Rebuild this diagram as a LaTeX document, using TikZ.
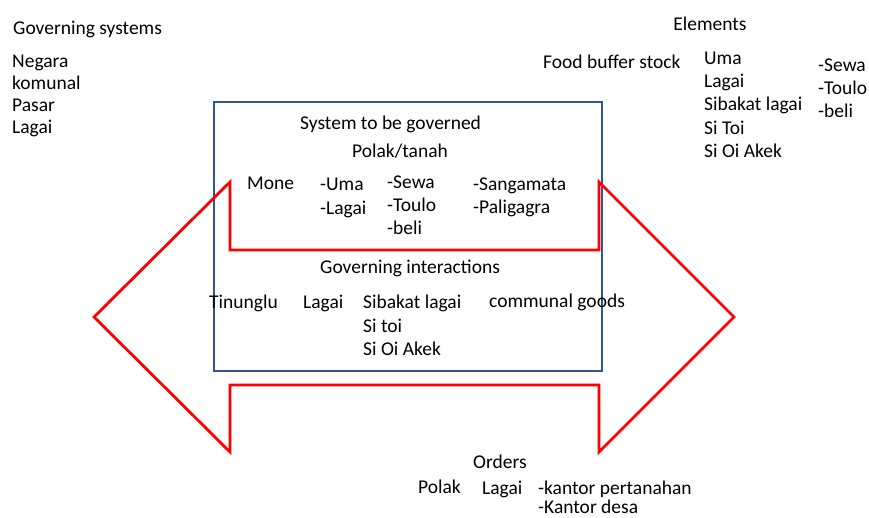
\documentclass[tikz,border=0pt]{standalone}
\usepackage{fontspec}
\setmainfont{Carlito}
\definecolor{boxblue}{HTML}{2F5597}
\definecolor{arrowred}{HTML}{FF0000}
\begin{document}
\begin{tikzpicture}[x=1pt,y=-1pt,
  lbl/.style={anchor=west,inner sep=0pt,text height=12pt,text depth=4pt,yshift=-3.5pt,font=\fontsize{19.5}{22}\selectfont},
  lblc/.style={lbl,anchor=center},
  govbox/.style={draw=boxblue,line width=2.8pt},
  bigarrow/.style={draw=arrowred,line width=2.8pt,line join=miter}]
\useasboundingbox (0,0) rectangle (869,518);
% blue box
\draw[govbox] (214,102) rectangle (602,371);
% red double arrow
\draw[bigarrow] (94,317) -- (230,182) -- (230,250) -- (599,250) -- (599,182) -- (734,317)
  -- (599,452) -- (599,385) -- (230,385) -- (230,452) -- cycle;
% governing systems
\node[lbl] (gs) at (13,27) {Governing systems};
\node[lbl] (gs1) at (12,60) {Negara};
\node[lbl] (gs2) at (12,82) {komunal};
\node[lbl] (gs3) at (12,104) {Pasar};
\node[lbl] (gs4) at (12,126) {Lagai};
% elements
\node[lblc] (el) at (710,23) {Elements};
\node[lbl] (fbs) at (543,61) {Food buffer stock};
\node[lbl] (e1) at (704,57) {Uma};
\node[lbl] (e2) at (704,80) {Lagai};
\node[lbl] (e3) at (704,103) {Sibakat lagai};
\node[lbl] (e4) at (704,127) {Si Toi};
\node[lbl] (e5) at (704,150) {Si Oi Akek};
\node[lbl] (s1) at (818,64) {-Sewa};
\node[lbl] (s2) at (818,87) {-Toulo};
\node[lbl] (s3) at (818,110) {-beli};
% system to be governed
\node[lbl] (stg) at (300,122) {System to be governed};
\node[lbl] (pt) at (352,150) {Polak/tanah};
\node[lbl] (mone) at (247,182) {Mone};
\node[lbl] (u1) at (320,183) {-Uma};
\node[lbl] (u2) at (320,207) {-Lagai};
\node[lbl] (w1) at (387,181) {-Sewa};
\node[lbl] (w2) at (387,204) {-Toulo};
\node[lbl] (w3) at (387,227) {-beli};
\node[lbl] (p1) at (473,183) {-Sangamata};
\node[lbl] (p2) at (473,206) {-Paligagra};
% governing interactions
\node[lbl] (gi) at (320,266) {Governing interactions};
\node[lbl] (tin) at (209,301) {Tinunglu};
\node[lbl] (lg) at (303,301) {Lagai};
\node[lbl] (sb1) at (363,301) {Sibakat lagai};
\node[lbl] (sb2) at (363,325) {Si toi};
\node[lbl] (sb3) at (363,348) {Si Oi Akek};
\node[lbl] (cg) at (489,300) {communal goods};
% orders
\node[lbl] (ord) at (473,461) {Orders};
\node[lbl] (op) at (418,486) {Polak};
\node[lbl] (ol) at (482,487) {Lagai};
\node[lbl] (k1) at (538,487) {-kantor pertanahan};
\node[lbl,text depth=1pt] (k2) at (538,504) {-Kantor desa};
\end{tikzpicture}
\end{document}
